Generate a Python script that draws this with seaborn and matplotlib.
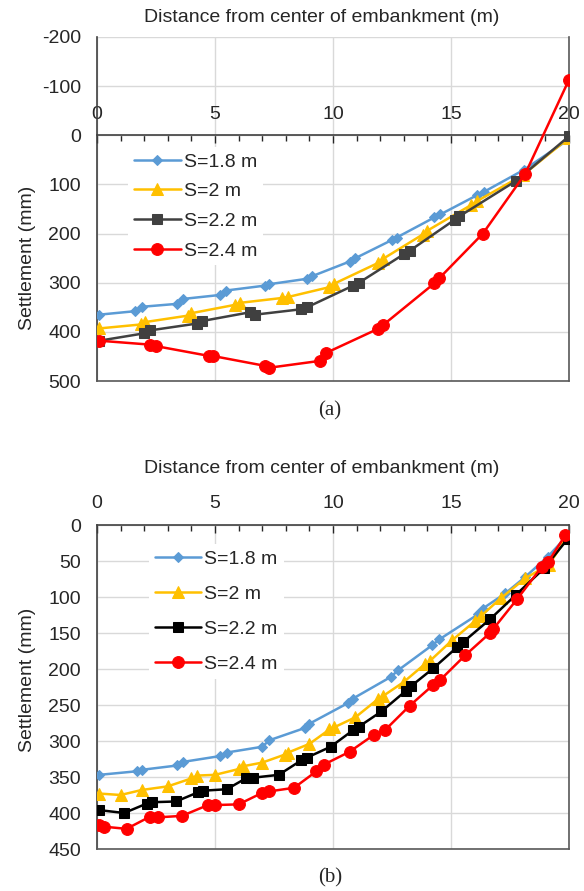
import matplotlib
matplotlib.use("Agg")
import matplotlib.pyplot as plt
import seaborn as sns
import pandas as pd
from matplotlib.ticker import MultipleLocator

# ---- data ----
labels = ["S=1.8 m", "S=2 m", "S=2.2 m", "S=2.4 m"]

# panel (a)
x_a_18 = [0.1, 1.6, 1.9, 3.4, 3.65, 5.2, 5.45, 7.1, 7.3, 8.9, 9.1, 10.7, 10.95, 12.5, 12.7, 14.3, 14.55, 16.1, 16.4, 18.1, 20]
s_a_18 = [365, 358, 349, 343, 333, 325, 316, 306, 303, 292, 287, 257, 250, 213, 208, 167, 161, 122, 115, 70, 8]
x_a_20 = [0.1, 1.85, 2.05, 3.85, 4.0, 5.85, 6.05, 7.85, 8.1, 9.85, 10.05, 11.9, 12.1, 13.8, 14.0, 15.85, 16.1, 18.05, 20]
s_a_20 = [393, 385, 380, 367, 362, 345, 341, 331, 329, 309, 302, 260, 252, 202, 194, 142, 134, 81, 5]
x_a_22 = [0.1, 2.0, 2.25, 4.25, 4.45, 6.5, 6.7, 8.65, 8.9, 10.85, 11.1, 13.0, 13.25, 15.15, 15.35, 17.75, 20]
s_a_22 = [418, 403, 397, 383, 378, 360, 365, 354, 350, 306, 300, 242, 235, 172, 165, 93, 2]
x_a_24 = [0.1, 2.25, 2.5, 4.75, 4.9, 7.1, 7.3, 9.45, 9.7, 11.9, 12.1, 14.3, 14.5, 16.35, 18.15, 20]
s_a_24 = [418, 426, 429, 449, 449, 469, 473, 459, 443, 394, 387, 301, 291, 200, 78, -113]

# panel (b)
x_b_18 = [0.1, 1.7, 1.9, 3.4, 3.65, 5.2, 5.5, 7.0, 7.3, 8.8, 9.0, 10.65, 10.85, 12.45, 12.75, 14.2, 14.5, 16.15, 16.35, 17.3, 18.15, 19.1, 19.9]
s_b_18 = [347, 342, 340, 334, 329, 321, 316, 308, 299, 282, 276, 247, 241, 211, 202, 167, 159, 124, 116, 95, 72, 44, 16]
x_b_20 = [0.1, 1.0, 1.9, 3.0, 4.0, 4.25, 5.0, 6.0, 6.2, 7.0, 7.95, 8.1, 9.0, 9.85, 10.05, 10.95, 11.9, 12.1, 13.0, 13.9, 14.1, 15.05, 16.0, 16.25, 17.1, 18.15, 19.15, 19.9]
s_b_20 = [373, 375, 368, 363, 352, 348, 347, 339, 335, 330, 319, 316, 304, 284, 281, 267, 242, 238, 218, 193, 189, 160, 134, 127, 102, 74, 55, 18]
x_b_22 = [0.1, 1.15, 2.1, 2.35, 3.35, 4.3, 4.5, 5.5, 6.3, 6.6, 7.7, 8.65, 8.9, 9.9, 10.85, 11.1, 12.05, 13.1, 13.3, 14.25, 15.25, 15.5, 16.65, 17.75, 18.95, 19.95]
s_b_22 = [396, 400, 387, 385, 384, 371, 369, 367, 352, 351, 347, 327, 323, 308, 285, 280, 259, 230, 224, 199, 170, 163, 131, 97, 60, 19]
x_b_24 = [0.1, 0.3, 1.25, 2.25, 2.6, 3.6, 4.7, 5.0, 6.0, 7.0, 7.3, 8.35, 9.3, 9.6, 10.7, 11.75, 12.2, 13.25, 14.25, 14.55, 15.6, 16.65, 16.8, 17.8, 18.85, 19.1, 19.85]
s_b_24 = [416, 419, 422, 405, 406, 404, 389, 389, 388, 372, 370, 365, 342, 333, 315, 291, 285, 251, 222, 215, 181, 150, 144, 103, 58, 52, 14]

sns.set_style("white")
plt.rcParams["font.family"] = ["Liberation Sans", "DejaVu Sans"]
plt.rcParams["axes.unicode_minus"] = False

markers = ["D", "^", "s", "o"]
msizes = [5.5, 8.5, 7.5, 8.5]
colors_a = ["#5B9BD5", "#FFC000", "#404040", "#FF0000"]
colors_b = ["#5B9BD5", "#FFC000", "#000000", "#FF0000"]
fs = 14

fig = plt.figure(figsize=(5.84, 8.91), dpi=100)
ax1 = fig.add_axes([97 / 584, 1 - 381 / 891, 472 / 584, 344 / 891])
ax2 = fig.add_axes([97 / 584, 1 - 849 / 891, 472 / 584, 324 / 891])

series_a = [(x_a_18, s_a_18), (x_a_20, s_a_20), (x_a_22, s_a_22), (x_a_24, s_a_24)]
series_b = [(x_b_18, s_b_18), (x_b_20, s_b_20), (x_b_22, s_b_22), (x_b_24, s_b_24)]


def draw(ax, series, colors):
    for (xs, ys), lab, m, ms, c in zip(series, labels, markers, msizes, colors):
        df = pd.DataFrame({"x": xs, "s": ys})
        sns.lineplot(data=df, x="x", y="s", ax=ax, sort=False, estimator=None,
                     color=c, marker=m, markersize=ms, markeredgecolor=c,
                     linewidth=1.8, label=lab, zorder=3)


def style(ax, ylim, major, minor):
    ax.set_xlim(0, 20)
    ax.set_ylim(*ylim)
    ax.xaxis.set_major_locator(MultipleLocator(5))
    ax.xaxis.set_minor_locator(MultipleLocator(1))
    ax.yaxis.set_major_locator(MultipleLocator(major))
    ax.yaxis.set_minor_locator(MultipleLocator(minor))
    ax.xaxis.tick_top()
    ax.grid(True, which="major", color="#d9d9d9", linewidth=1.0, zorder=0)
    ax.tick_params(axis="x", which="both", direction="in", top=True, bottom=False,
                   labelsize=fs, pad=9, colors="#262626")
    ax.tick_params(axis="x", which="major", length=6, width=1)
    ax.tick_params(axis="x", which="minor", length=4, width=1)
    ax.tick_params(axis="y", which="major", direction="inout", length=7, width=1,
                   labelsize=fs, pad=8, colors="#262626")
    ax.tick_params(axis="y", which="minor", direction="in", length=4, width=1)
    for sp in ax.spines.values():
        sp.set_color("#404040")
        sp.set_linewidth(1.2)
    ax.spines["right"].set_color("#595959")
    ax.spines["bottom"].set_color("#595959")
    ax.set_xlabel("")
    ax.set_ylabel("")


draw(ax1, series_a, colors_a)
style(ax1, (500, -200), 100, 20)
ax1.spines["top"].set_position(("data", 0))
ax1.legend(loc="upper left", bbox_to_anchor=(0.066, 0.68), frameon=True,
           facecolor="white", edgecolor="none", framealpha=1, fontsize=fs,
           handlelength=2.4, handletextpad=0.15, labelspacing=0.62,
           borderpad=0.3, borderaxespad=0)

draw(ax2, series_b, colors_b)
style(ax2, (450, 0), 50, 10)
ax2.legend(loc="upper left", bbox_to_anchor=(0.11, 0.94), frameon=True,
           facecolor="white", edgecolor="none", framealpha=1, fontsize=fs,
           handlelength=2.4, handletextpad=0.15, labelspacing=0.9,
           borderpad=0.3, borderaxespad=0)

title = "Distance from center of embankment (m)"
fig.text(322 / 584, 1 - 17 / 891, title, ha="center", va="center", fontsize=fs, color="#262626")
fig.text(322 / 584, 1 - 468 / 891, title, ha="center", va="center", fontsize=fs, color="#262626")
fig.text(27 / 584, 1 - 258 / 891, "Settlement (mm)", rotation=90, ha="center", va="center",
         fontsize=fs, color="#262626")
fig.text(27 / 584, 1 - 680 / 891, "Settlement (mm)", rotation=90, ha="center", va="center",
         fontsize=fs, color="#262626")
fig.text(330 / 584, 1 - 411 / 891, "(a)", ha="center", va="center", fontsize=15,
         family=["Liberation Serif", "DejaVu Serif"])
fig.text(330 / 584, 1 - 878 / 891, "(b)", ha="center", va="center", fontsize=15,
         family=["Liberation Serif", "DejaVu Serif"])

fig.savefig("out.png", dpi=100, facecolor="w")
